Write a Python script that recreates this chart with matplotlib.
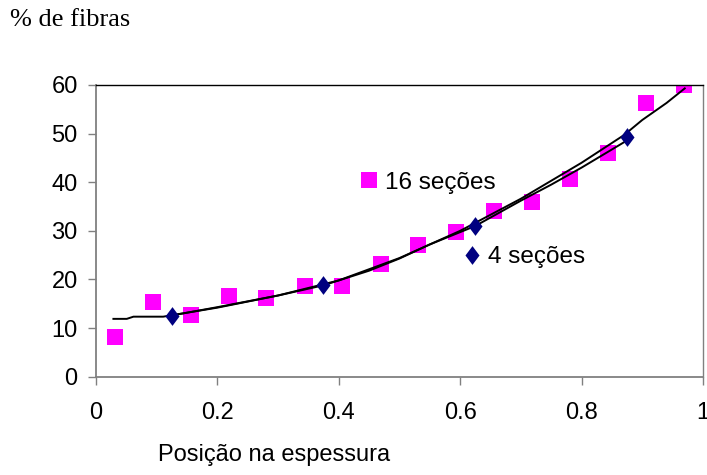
import matplotlib
matplotlib.use("Agg")
import matplotlib.pyplot as plt
from matplotlib.lines import Line2D

# 16 sections data
x16 = [0.031, 0.094, 0.156, 0.219, 0.281, 0.344, 0.406, 0.469,
       0.531, 0.594, 0.656, 0.719, 0.781, 0.844, 0.906, 0.969]
y16 = [8.2, 15.3, 12.6, 16.5, 16.2, 18.6, 18.6, 23.2,
       27.1, 29.8, 34.1, 35.9, 40.7, 46.0, 56.2, 60.0]

# 4 sections data
x4 = [0.125, 0.375, 0.625, 0.875]
y4 = [12.5, 18.8, 31.1, 49.2]

# trend line for 16 sections
t16_x = [0.029, 0.051, 0.062, 0.111, 0.2, 0.3, 0.4, 0.5, 0.6, 0.7, 0.8, 0.87, 0.9, 0.94, 0.97]
t16_y = [11.9, 11.9, 12.35, 12.35, 14.2, 16.7, 19.8, 24.4, 30.0, 36.6, 44.0, 49.7, 52.8, 56.3, 59.3]

# trend line for 4 sections
t4_x = [0.125, 0.2, 0.3, 0.375, 0.45, 0.5, 0.55, 0.625, 0.7, 0.75, 0.8, 0.875]
t4_y = [12.6, 14.3, 16.7, 18.8, 21.8, 24.3, 27.2, 31.0, 36.2, 39.5, 43.0, 48.6]

xticks = [0, 0.2, 0.4, 0.6, 0.8, 1]
xticklabels = ["0", "0.2", "0.4", "0.6", "0.8", "1"]
yticks = [0, 10, 20, 30, 40, 50, 60]

series_labels = ["16 seções", "4 seções"]

MAGENTA = "#FF00FF"
NAVY = "#000080"
diamond = [(0, 1), (0.75, 0), (0, -1), (-0.75, 0), (0, 1)]

plt.rcParams["font.family"] = ["Liberation Sans", "DejaVu Sans"]

fig = plt.figure(figsize=(7.07, 4.75), dpi=100)
ax = fig.add_axes([0.1355, 0.2069, 0.8588, 0.6142])

ax.plot(t16_x, t16_y, color="black", lw=1.4, zorder=3)
ax.plot(t4_x, t4_y, color="black", lw=1.4, zorder=3)
ax.plot(x16, y16, linestyle="none", marker="s", markersize=11,
        color=MAGENTA, markeredgewidth=0, zorder=2)
ax.plot(x4, y4, linestyle="none", marker=diamond, markersize=13.5,
        color=NAVY, markeredgewidth=0, zorder=4)

ax.set_xlim(0, 1)
ax.set_ylim(0, 60)
ax.set_xticks(xticks)
ax.set_xticklabels(xticklabels)
ax.set_yticks(yticks)

ax.tick_params(axis="both", direction="out", length=6, width=1,
               color="#808080", labelsize=17)
ax.tick_params(axis="x", pad=12)
ax.tick_params(axis="y", pad=7)

for side in ["left", "bottom"]:
    ax.spines[side].set_color("#808080")
    ax.spines[side].set_linewidth(1.3)
ax.spines["top"].set_color("black")
ax.spines["top"].set_linewidth(1.0)
ax.spines["right"].set_color("#808080")
ax.spines["right"].set_linewidth(1.0)

# legends placed inside the plot
h16 = Line2D([], [], linestyle="none", marker="s", markersize=11,
             color=MAGENTA, markeredgewidth=0)
h4 = Line2D([], [], linestyle="none", marker=diamond, markersize=13.5,
            color=NAVY, markeredgewidth=0)
leg1 = ax.legend([h16], [series_labels[0]], loc="center left",
                 bbox_to_anchor=(0.430, 0.665), frameon=False,
                 borderpad=0, handlelength=1.0, handletextpad=0.15,
                 fontsize=17.5, borderaxespad=0)
ax.add_artist(leg1)
ax.legend([h4], [series_labels[1]], loc="center left",
          bbox_to_anchor=(0.600, 0.41), frameon=False,
          borderpad=0, handlelength=1.0, handletextpad=0.15,
          fontsize=17.5, borderaxespad=0)

fig.text(0.388, 0.042, "Posição na espessura", ha="center", va="center",
         fontsize=17)
fig.text(0.014, 0.958, "% de fibras", ha="left", va="center",
         fontsize=19, family=["Liberation Serif", "DejaVu Serif"])

fig.savefig("out.png", dpi=100)
